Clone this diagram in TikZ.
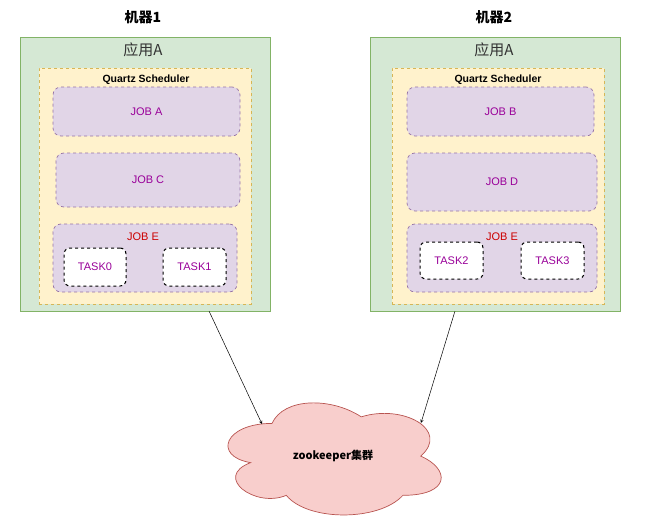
\documentclass[tikz,border=0pt]{standalone}
\usepackage{fontspec}
\setmainfont{Liberation Sans}
\newfontfamily\cjk{Noto Sans CJK SC}
\usetikzlibrary{arrows,positioning,calc}

\definecolor{appfill}{HTML}{D5E8D4}
\definecolor{appline}{HTML}{82B366}
\definecolor{schedfill}{HTML}{FFF2CC}
\definecolor{schedline}{HTML}{D6B656}
\definecolor{jobfill}{HTML}{E1D5E7}
\definecolor{jobline}{HTML}{9673A6}
\definecolor{jobtext}{HTML}{990099}
\definecolor{jobred}{HTML}{CC0000}
\definecolor{zkfill}{HTML}{F8CECC}
\definecolor{zkline}{HTML}{B85450}

\begin{document}
\begin{tikzpicture}[
    x=1pt, y=-1pt,
    every node/.style={inner sep=0pt},
    appbox/.style={rectangle, draw=appline, fill=appfill, line width=0.8pt, minimum width=250pt, minimum height=274pt},
    schedbox/.style={rectangle, draw=schedline, fill=schedfill, dashed, line width=0.7pt, minimum width=212pt, minimum height=236pt},
    jobbox/.style={rectangle, rounded corners=8pt, draw=jobline, fill=jobfill, dashed, line width=0.7pt, font=\fontsize{11}{13}\selectfont, text=jobtext},
    taskbox/.style={rectangle, rounded corners=6pt, draw=black, fill=white, dashed, line width=1pt, font=\fontsize{11}{13}\selectfont, text=jobtext},
    title/.style={font=\fontsize{14}{16}\selectfont\cjk\bfseries},
    applabel/.style={font=\fontsize{15}{17}\selectfont\cjk, text=black!80},
    schedlabel/.style={font=\fontsize{10.5}{12}\selectfont\bfseries},
    joblabel/.style={font=\fontsize{11}{13}\selectfont, text=jobred},
    zkcloud/.style={draw=zkline, fill=zkfill, line width=0.7pt}
]
\useasboundingbox (0,0) rectangle (654,530);

% Machine 1
\node [title] (title1) at (143,17) {机器1};
\node [appbox] (app1) at (145,174) {};
\node [applabel] (app1label) at (143,50) {应用A};
\node [schedbox] (sched1) at (145,186) {};
\node [schedlabel] (sched1label) at (146,80) {Quartz Scheduler};
\node [jobbox, minimum width=187pt, minimum height=49pt] (jobA) at (146.5,111.5) {JOB A};
\node [jobbox, minimum width=184pt, minimum height=54pt] (jobC) at (148,180) {JOB C};
\node [jobbox, minimum width=184pt, minimum height=68pt] (jobE1) at (145,258) {};
\node [joblabel] (jobE1label) at (143,237) {JOB E};
\node [taskbox, minimum width=62pt, minimum height=38pt] (task0) at (95,267) {TASK0};
\node [taskbox, minimum width=63pt, minimum height=38pt] (task1) at (194.5,267) {TASK1};

% Machine 2
\node [title] (title2) at (494,17) {机器2};
\node [appbox] (app2) at (495,174) {};
\node [applabel] (app2label) at (494,50) {应用A};
\node [schedbox] (sched2) at (498,186) {};
\node [schedlabel] (sched2label) at (498,80) {Quartz Scheduler};
\node [jobbox, minimum width=187pt, minimum height=49pt] (jobB) at (500.5,111.5) {JOB B};
\node [jobbox, minimum width=190pt, minimum height=58pt] (jobD) at (502,182) {JOB D};
\node [jobbox, minimum width=190pt, minimum height=68pt] (jobE2) at (502,258) {};
\node [joblabel] (jobE2label) at (502,237) {JOB E};
\node [taskbox, minimum width=63pt, minimum height=37pt] (task2) at (451.5,260.5) {TASK2};
\node [taskbox, minimum width=63pt, minimum height=37pt] (task3) at (552.5,260.5) {TASK3};

% Zookeeper cluster (cloud outline, unit box 238 x 130.8)
\begin{scope}[shift={(212.5,390.7)}, x=238pt, y=-130.8pt]
  \draw [zkcloud] (0.25,0.25) .. controls (0.05,0.25) and (0,0.5) .. (0.16,0.55)
    .. controls (0,0.66) and (0.18,0.9) .. (0.31,0.8)
    .. controls (0.4,1) and (0.7,1) .. (0.8,0.8)
    .. controls (1,0.8) and (1,0.6) .. (0.875,0.5)
    .. controls (1,0.3) and (0.8,0.1) .. (0.625,0.2)
    .. controls (0.5,0.05) and (0.3,0.05) .. (0.25,0.25) -- cycle;
  \coordinate (zkin1) at (0.208,0.255);
  \coordinate (zkin2) at (0.876,0.247);
\end{scope}
\node [font=\fontsize{11}{13}\selectfont\cjk\bfseries] (zk) at (333,456) {zookeeper集群};

% Connections
\draw [->, >=stealth, line width=0.5pt] ($(app1.south west)!0.756!(app1.south east)$) -- (zkin1);
\draw [->, >=stealth, line width=0.5pt] ($(app2.south west)!0.34!(app2.south east)$) -- (zkin2);

\end{tikzpicture}
\end{document}
